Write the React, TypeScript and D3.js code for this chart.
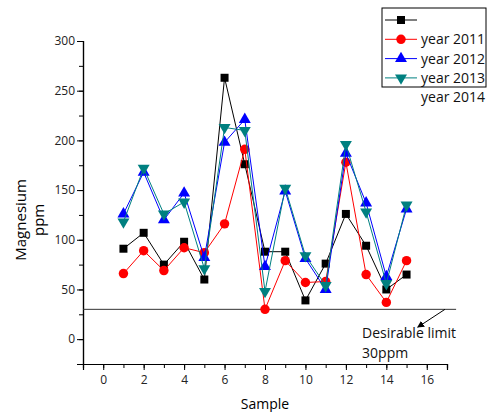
import * as d3 from "d3";
import { useEffect, useRef } from "react";

const samples = [1, 2, 3, 4, 5, 6, 7, 8, 9, 10, 11, 12, 13, 14, 15];
const seriesBlank = [91, 107, 75, 98, 60, 263, 176, 88, 88, 39, 76, 126, 94, 50, 65];
const year2011 = [66, 89, 69, 92, 87, 116, 191, 30, 79, 57, 58, 178, 65, 37, 79];
const year2012 = [126, 168, 120, 147, 82, 198, 221, 73, 149, 81, 50, 187, 137, 63, 131];
const year2013 = [118, 172, 126, 138, 71, 213, 210, 48, 152, 84, 54, 196, 128, 56, 135];
const legendLabels = ["", "year 2011", "year 2012", "year 2013"];
const extraLegendLabel = "year 2014";
const limitValue = 30;
const limitNote = ["Desirable limit", "30ppm"];

const FONT = "'Open Sans', 'DejaVu Sans', sans-serif";

export default function App() {
  const svgRef = useRef<SVGSVGElement | null>(null);

  useEffect(() => {
    if (!svgRef.current) return;
    const width = 489;
    const height = 412;
    const margin = { top: 41, right: 42, bottom: 48, left: 83 };

    d3.select(svgRef.current).selectAll("*").remove();
    const svg = d3.select(svgRef.current).attr("width", width).attr("height", height);

    const x = d3.scaleLinear().domain([-1, 17]).range([margin.left, width - margin.right]);
    const y = d3.scaleLinear().domain([-25, 300]).range([height - margin.bottom, margin.top]);

    // axes: minor ticks first, then labelled major ticks
    const xMinor = d3.axisBottom(x).tickValues(d3.range(-1, 18, 1)).tickSize(4).tickFormat(() => "");
    const xMajor = d3.axisBottom(x).tickValues(d3.range(0, 17, 2)).tickSize(6).tickPadding(5);
    const yMinor = d3.axisLeft(y).tickValues(d3.range(-25, 301, 25)).tickSize(4).tickFormat(() => "");
    const yMajor = d3.axisLeft(y).tickValues(d3.range(0, 301, 50)).tickSize(6).tickPadding(2);

    const xg = svg.append("g").attr("transform", `translate(0,${y(-25)})`);
    xg.append("g").call(xMinor);
    xg.append("g").call(xMajor);
    const yg = svg.append("g").attr("transform", `translate(${x(-1)},0)`);
    yg.append("g").call(yMinor);
    yg.append("g").call(yMajor);
    svg.selectAll(".domain").attr("stroke", "#000").attr("stroke-width", 1.2);
    svg.selectAll(".tick line").attr("stroke", "#000");
    svg.selectAll(".tick text").attr("font-family", FONT).attr("font-size", 12).attr("fill", "#222");

    // axis titles
    svg
      .append("text")
      .attr("x", x(8))
      .attr("y", height - 3)
      .attr("text-anchor", "middle")
      .attr("font-family", FONT)
      .attr("font-size", 14)
      .text("Sample");
    const yt = svg
      .append("text")
      .attr("transform", `translate(26,${y(120)}) rotate(-90)`)
      .attr("text-anchor", "middle")
      .attr("font-family", FONT)
      .attr("font-size", 15);
    yt.append("tspan").attr("x", 0).attr("dy", 0).text("Magnesium");
    yt.append("tspan").attr("x", 0).attr("dy", 18).text("ppm");

    // desirable limit line + note
    svg
      .append("line")
      .attr("x1", x(-1))
      .attr("x2", x(17.45))
      .attr("y1", y(limitValue))
      .attr("y2", y(limitValue))
      .attr("stroke", "#333")
      .attr("stroke-width", 1);
    svg
      .append("defs")
      .append("marker")
      .attr("id", "arr")
      .attr("viewBox", "0 0 10 10")
      .attr("refX", 9)
      .attr("refY", 5)
      .attr("markerWidth", 7)
      .attr("markerHeight", 7)
      .attr("orient", "auto")
      .append("path")
      .attr("d", "M0,0 L10,5 L0,10 z")
      .attr("fill", "#000");
    svg
      .append("line")
      .attr("x1", x(16.9))
      .attr("y1", y(limitValue))
      .attr("x2", x(15.55))
      .attr("y2", y(12))
      .attr("stroke", "#000")
      .attr("stroke-width", 1)
      .attr("marker-end", "url(#arr)");
    limitNote.forEach((t, i) => {
      svg
        .append("text")
        .attr("x", x(12.8))
        .attr("y", y(1) + i * 20)
        .attr("font-family", FONT)
        .attr("font-size", 14)
        .attr("fill", "#111")
        .text(t);
    });

    const series = [
      { values: seriesBlank, color: "#000000", shape: d3.symbolSquare, size: 64, rot: 0 },
      { values: year2011, color: "#ff0000", shape: d3.symbolCircle, size: 70, rot: 0 },
      { values: year2012, color: "#0000ff", shape: d3.symbolTriangle, size: 62, rot: 0 },
      { values: year2013, color: "#008080", shape: d3.symbolTriangle, size: 62, rot: 180 },
    ];

    const line = d3
      .line<number>()
      .x((_, i) => x(samples[i]))
      .y((d) => y(d));

    series.forEach((s) => {
      svg
        .append("path")
        .datum(s.values)
        .attr("fill", "none")
        .attr("stroke", s.color)
        .attr("stroke-width", 1)
        .attr("d", line);
      svg
        .append("g")
        .selectAll("path")
        .data(s.values)
        .join("path")
        .attr("d", d3.symbol().type(s.shape).size(s.size)())
        .attr("transform", (d, i) => `translate(${x(samples[i])},${y(d)}) rotate(${s.rot})`)
        .attr("fill", s.color);
    });

    // legend
    const lg = svg.append("g").attr("transform", "translate(382,8)");
    lg.append("rect")
      .attr("width", 104)
      .attr("height", 79)
      .attr("fill", "#fff")
      .attr("stroke", "#000")
      .attr("stroke-width", 1);
    series.forEach((s, i) => {
      const cy = 12 + i * 19.3;
      lg.append("line").attr("x1", 3).attr("x2", 35).attr("y1", cy).attr("y2", cy).attr("stroke", s.color);
      lg.append("path")
        .attr("d", d3.symbol().type(s.shape).size(s.size)())
        .attr("transform", `translate(19,${cy}) rotate(${s.rot})`)
        .attr("fill", s.color);
      lg.append("text")
        .attr("x", 39)
        .attr("y", cy + 5)
        .attr("font-family", FONT)
        .attr("font-size", 14)
        .attr("fill", "#111")
        .text(legendLabels[i]);
    });
    lg.append("text")
      .attr("x", 39)
      .attr("y", 12 + 4 * 19.3 + 5)
      .attr("font-family", FONT)
      .attr("font-size", 14)
      .attr("fill", "#111")
      .text(extraLegendLabel);
  }, []);

  return <svg ref={svgRef} style={{ position: "absolute", left: 0, top: 0, background: "#fff" }} />;
}
